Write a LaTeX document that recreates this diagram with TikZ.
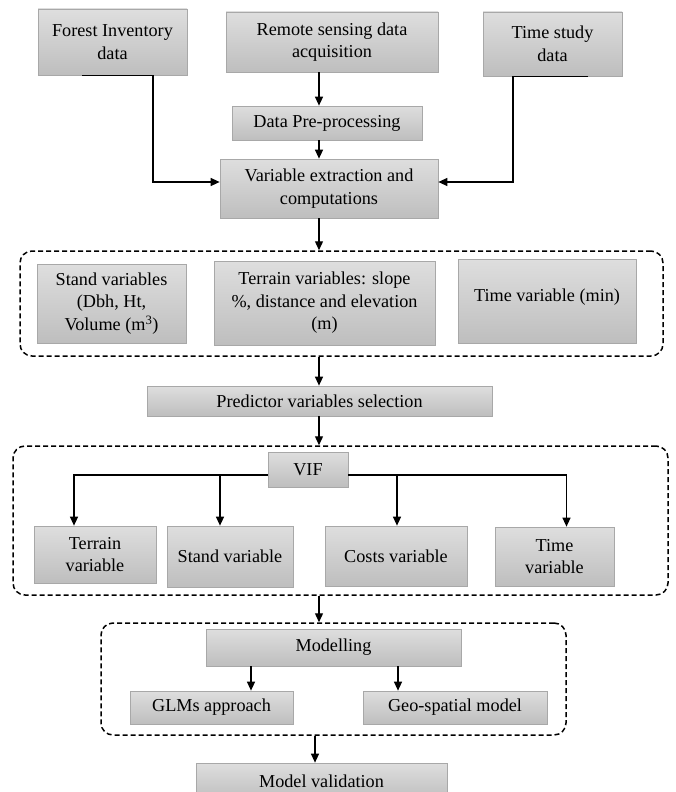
\documentclass[tikz,border=0pt]{standalone}
\usepackage{fontspec}
\setmainfont{Liberation Serif}
\usetikzlibrary{positioning,arrows.meta}

\definecolor{boxtop}{RGB}{222,222,222}
\definecolor{boxbot}{RGB}{190,190,190}
\definecolor{boxline}{RGB}{168,168,168}

\begin{document}
\begin{tikzpicture}[x=1pt,y=-1pt,
	greybox/.style={draw=boxline,line width=0.7pt,top color=boxtop,bottom color=boxbot,inner sep=0pt,align=center,font=\fontsize{18.2}{22.5}\selectfont},
	groupbox/.style={draw,dash pattern=on 5pt off 3pt,line width=1.5pt,rounded corners=12pt,inner sep=0pt},
	arr/.style={-{Triangle[length=9pt,width=8pt]},line width=1.3pt}]
		\useasboundingbox (0,0) rectangle (675,792);
		\coordinate (axis) at (319,0);

		% sources
		\node[greybox,minimum width=149pt,minimum height=66pt]	(forest)	at (112.5,42)	{Forest Inventory\\data};
		\node[greybox,minimum width=212pt,minimum height=60pt]	(remote)	at (332,42)		{Remote sensing data\\acquisition};
		\node[greybox,minimum width=139pt,minimum height=64pt]	(tstudy)	at (552.5,44)	{Time study\\data};
		\node[greybox,minimum width=190pt,minimum height=34pt]	(prep)		at (327,123)	{Data Pre-processing};
		\node[greybox,minimum width=218pt,minimum height=59pt]	(varex)		at (329,188.5)	{Variable extraction and\\computations};

		% variables
		\node[groupbox,minimum width=643pt,minimum height=105pt]	(grpvar)	at (341.5,303.5)	{};
		\node[greybox,minimum width=149pt,minimum height=79pt]	(standv)	at (111.5,303.5)	{Stand variables\\(Dbh, Ht,\\Volume (m\textsuperscript{3})};
		\node[greybox,minimum width=221pt,minimum height=84pt]	(terrv)		at (324.5,303)	{Terrain variables: slope\\\%, distance and elevation\\(m)};
		\node[greybox,minimum width=178pt,minimum height=84pt,text depth=12pt]	(timev)	at (547,301)	{Time variable (min)};

		\node[greybox,minimum width=345pt,minimum height=30pt]	(pred)		at (319.5,401)	{Predictor variables selection};

		% VIF
		\node[groupbox,minimum width=655pt,minimum height=149pt]	(grpvif)	at (340.5,520.5)	{};
		\node[greybox,minimum width=80pt,minimum height=35pt]		(vif)		at (308,469.5)	{VIF};
		\node[greybox,minimum width=122pt,minimum height=57pt]	(terr2)		at (95,554.5)	{Terrain\\variable};
		\node[greybox,minimum width=126pt,minimum height=61pt]	(stand2)	at (230,556.5)	{Stand variable};
		\node[greybox,minimum width=142pt,minimum height=60pt]	(costs)		at (396,556)	{Costs variable};
		\node[greybox,minimum width=119pt,minimum height=59pt]	(time2)		at (554.5,556.5)	{Time\\variable};

		% modelling
		\node[groupbox,minimum width=465pt,minimum height=112pt]	(grpmod)	at (333.5,679)	{};
		\node[greybox,minimum width=255pt,minimum height=37pt]	(model)		at (333.5,647.5)	{Modelling};
		\node[greybox,minimum width=163pt,minimum height=33pt]	(glm)		at (211.5,707.5)	{GLMs approach};
		\node[greybox,minimum width=184pt,minimum height=33pt]	(geo)		at (455,707.5)	{Geo-spatial model};
		\node[greybox,minimum width=251pt,minimum height=37pt]	(valid)		at (321.5,781.5)	{Model validation};

		\draw[arr] ([xshift=-30.5pt]forest.south) -- ([xshift=40.5pt]forest.south) |- ([yshift=6.5pt]varex.west);
		\draw[arr] ([xshift=35.5pt]tstudy.south) -- ([xshift=-39.5pt]tstudy.south) |- ([yshift=6.5pt]varex.east);
		\draw[arr] (remote.south -| axis) -- (prep.north -| axis);
		\draw[arr] (prep.south -| axis) -- (varex.north -| axis);
		\draw[arr] (varex.south -| axis) -- (grpvar.north -| axis);
		\draw[arr] (grpvar.south -| axis) -- (pred.north -| axis);
		\draw[arr] (pred.south -| axis) -- (grpvif.north -| axis);
		\draw[arr] ([yshift=-5.5pt]vif.west) -| ([xshift=-21pt]terr2.north);
		\draw[arr] ([xshift=-10pt]stand2.north |- vif.west) ++(0,5.5) -- ([xshift=-10pt]stand2.north);
		\draw[arr] ([yshift=-5.5pt]vif.east) -| ([xshift=12pt]time2.north);
		\draw[arr] ([xshift=1pt]costs.north |- vif.east) ++(0,5.5) -- ([xshift=1pt]costs.north);
		\draw[arr] (grpvif.south -| axis) -- (grpmod.north -| axis);
		\draw[arr] ([xshift=39.5pt]glm.north |- model.south) -- ([xshift=39.5pt]glm.north);
		\draw[arr] ([xshift=-57pt]geo.north |- model.south) -- ([xshift=-57pt]geo.north);
		\draw[arr] ([xshift=-4pt]grpmod.south -| axis) -- ([xshift=-4pt]valid.north -| axis);
	\end{tikzpicture}
\end{document}
